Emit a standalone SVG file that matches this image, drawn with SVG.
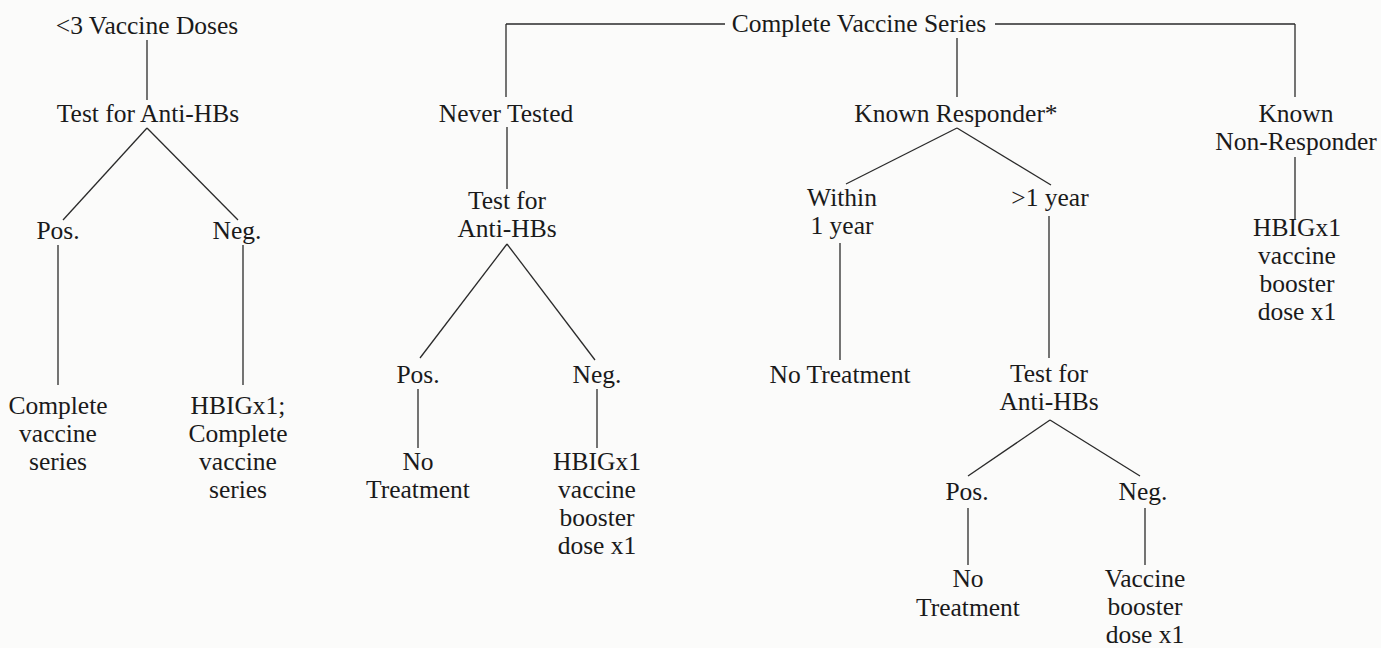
<svg xmlns="http://www.w3.org/2000/svg" width="1381" height="648" viewBox="0 0 1381 648">
<style>
text{font-family:"Liberation Serif","Times New Roman",serif;font-size:25.5px;fill:#1a1a1a;text-anchor:middle}
.c line{stroke:#2a2a2a;stroke-width:1.3;fill:none}
</style>
<rect width="1381" height="648" fill="#fbfbfa"/>
<g class="c" id="connectors">
<line x1="147" y1="40" x2="147" y2="100"/>
<line x1="147" y1="128" x2="63" y2="220"/>
<line x1="147" y1="128" x2="238" y2="220"/>
<line x1="58" y1="245" x2="58" y2="385"/>
<line x1="243" y1="245" x2="243" y2="385"/>
<line x1="506" y1="24" x2="725" y2="24"/>
<line x1="995" y1="24" x2="1295" y2="24"/>
<line x1="506" y1="24" x2="506" y2="97"/>
<line x1="1295" y1="24" x2="1295" y2="97"/>
<line x1="957" y1="38" x2="957" y2="97"/>
<line x1="507" y1="127" x2="507" y2="189"/>
<line x1="507" y1="244" x2="420" y2="358"/>
<line x1="507" y1="244" x2="595" y2="360"/>
<line x1="418" y1="389" x2="418" y2="448"/>
<line x1="597" y1="389" x2="597" y2="448"/>
<line x1="957" y1="128" x2="846" y2="184"/>
<line x1="957" y1="128" x2="1051" y2="185"/>
<line x1="840" y1="243" x2="840" y2="360"/>
<line x1="1049" y1="216" x2="1049" y2="358"/>
<line x1="1050" y1="420" x2="968" y2="476"/>
<line x1="1050" y1="420" x2="1140" y2="476"/>
<line x1="968" y1="508" x2="968" y2="565"/>
<line x1="1145" y1="508" x2="1145" y2="565"/>
<line x1="1295" y1="157" x2="1295" y2="220"/>
</g>
<g id="n-lt3"><text x="147" y="34">&lt;3 Vaccine Doses</text></g>
<g id="n-test1"><text x="148" y="122">Test for Anti-HBs</text></g>
<g id="n-pos1"><text x="58" y="239">Pos.</text></g>
<g id="n-neg1"><text x="237" y="239">Neg.</text></g>
<g id="n-complete1"><text x="58" y="414">Complete</text><text x="58" y="442">vaccine</text><text x="58" y="470">series</text></g>
<g id="n-hbig1"><text x="238" y="414">HBIGx1;</text><text x="238" y="442">Complete</text><text x="238" y="470">vaccine</text><text x="238" y="498">series</text></g>
<g id="n-series"><text x="859" y="32">Complete Vaccine Series</text></g>
<g id="n-never"><text x="506" y="122">Never Tested</text></g>
<g id="n-test2"><text x="507" y="209">Test for</text><text x="507" y="237">Anti-HBs</text></g>
<g id="n-pos2"><text x="418" y="383">Pos.</text></g>
<g id="n-neg2"><text x="597" y="383">Neg.</text></g>
<g id="n-notx2"><text x="418" y="470">No</text><text x="418" y="498">Treatment</text></g>
<g id="n-hbig2"><text x="597" y="470">HBIGx1</text><text x="597" y="498">vaccine</text><text x="597" y="526">booster</text><text x="597" y="554">dose x1</text></g>
<g id="n-responder"><text x="956" y="122">Known Responder*</text></g>
<g id="n-within"><text x="842" y="206">Within</text><text x="842" y="234">1 year</text></g>
<g id="n-notx3"><text x="840" y="383">No Treatment</text></g>
<g id="n-gt1"><text x="1050" y="206">&gt;1 year</text></g>
<g id="n-test3"><text x="1049" y="382">Test for</text><text x="1049" y="410">Anti-HBs</text></g>
<g id="n-pos3"><text x="967" y="500">Pos.</text></g>
<g id="n-neg3"><text x="1143" y="500">Neg.</text></g>
<g id="n-notx4"><text x="968" y="587">No</text><text x="968" y="616">Treatment</text></g>
<g id="n-booster"><text x="1145" y="587">Vaccine</text><text x="1145" y="615">booster</text><text x="1145" y="643">dose x1</text></g>
<g id="n-nonresp"><text x="1296" y="122">Known</text><text x="1296" y="150">Non-Responder</text></g>
<g id="n-hbig3"><text x="1297" y="236">HBIGx1</text><text x="1297" y="264">vaccine</text><text x="1297" y="292">booster</text><text x="1297" y="320">dose x1</text></g>
</svg>
